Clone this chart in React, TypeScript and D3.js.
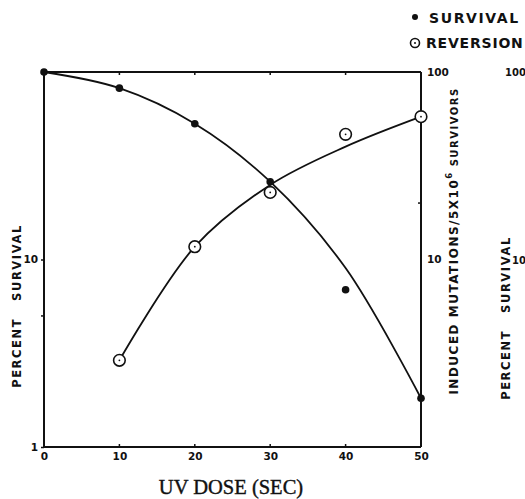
import { useEffect, useRef } from "react"
import * as d3 from "d3"

// dose in seconds
const doses = [0, 10, 20, 30, 40, 50]
const survivalPoints = [100, 82, 53, 26, 6.9, 1.82]
const survivalCurve = [100, 82, 53, 26, 9, 1.82]

const reversionDoses = [10, 20, 30, 40, 50]
const reversionPoints = [2.9, 11.7, 22.8, 46.5, 57.8]
const reversionCurve = [2.9, 11.7, 25, 40, 57.8]

const xTicks = [0, 10, 20, 30, 40, 50]
const leftTicks = [1, 10]
const rightTicks = [10, 100]
const minorLeft = [5]
const minorRight = [20]

export default function App() {
  const svgRef = useRef<SVGSVGElement>(null)

  useEffect(() => {
    if (!svgRef.current) return
    const svg = d3.select(svgRef.current)
    svg.selectAll("*").remove()

    const margin = { top: 72, right: 104, bottom: 52, left: 44 }
    const width = 525
    const height = 499
    const innerW = width - margin.left - margin.right
    const innerH = height - margin.top - margin.bottom

    const x = d3.scaleLinear().domain([0, 50]).range([margin.left, margin.left + innerW])
    const y = d3.scaleLog().domain([1, 100]).range([margin.top + innerH, margin.top])

    const tickFont = "'DejaVu Sans', sans-serif"

    // frame
    const frame = svg.append("g").attr("stroke", "#111").attr("stroke-width", 2).attr("fill", "none")
    frame.append("line").attr("x1", x(0)).attr("x2", x(0)).attr("y1", y(100)).attr("y2", y(1))
    frame.append("line").attr("x1", x(50)).attr("x2", x(50)).attr("y1", y(100)).attr("y2", y(1))
    frame.append("line").attr("x1", x(0)).attr("x2", x(50)).attr("y1", y(100)).attr("y2", y(100))
    frame.append("line").attr("x1", x(0)).attr("x2", x(50)).attr("y1", y(1)).attr("y2", y(1))

    // bottom axis
    const xAxis = d3.axisBottom(x).tickValues(xTicks).tickSize(0).tickPadding(6).tickFormat(d3.format("d"))
    const gx = svg.append("g").attr("transform", `translate(0,${y(1)})`).call(xAxis)
    gx.select(".domain").remove()
    gx.selectAll("text").attr("font-family", tickFont).attr("font-weight", "bold").attr("font-size", 10.5).attr("fill", "#111")

    // small inner ticks top and bottom
    xTicks.slice(1, 5).forEach((t) => {
      svg.append("line").attr("x1", x(t)).attr("x2", x(t)).attr("y1", y(1)).attr("y2", y(1) - 3).attr("stroke", "#111").attr("stroke-width", 1.5)
      svg.append("line").attr("x1", x(t)).attr("x2", x(t)).attr("y1", y(100)).attr("y2", y(100) + 3).attr("stroke", "#111").attr("stroke-width", 1.5)
    })

    // left axis
    const yAxisL = d3.axisLeft(y).tickValues(leftTicks).tickSize(3).tickPadding(3).tickFormat(d3.format("d"))
    const gl = svg.append("g").attr("transform", `translate(${x(0)},0)`).call(yAxisL)
    gl.select(".domain").remove()
    gl.selectAll("line").attr("stroke", "#111").attr("stroke-width", 1.5)
    gl.selectAll("text").attr("font-family", tickFont).attr("font-weight", "bold").attr("font-size", 10.5).attr("fill", "#111")
    minorLeft.forEach((t) => {
      svg.append("line").attr("x1", x(0)).attr("x2", x(0) - 3).attr("y1", y(t)).attr("y2", y(t)).attr("stroke", "#111").attr("stroke-width", 1.5)
    })

    // right axis
    const yAxisR = d3.axisRight(y).tickValues(rightTicks).tickSize(0).tickPadding(6).tickFormat(d3.format("d"))
    const gr = svg.append("g").attr("transform", `translate(${x(50)},0)`).call(yAxisR)
    gr.select(".domain").remove()
    gr.selectAll("text").attr("font-family", tickFont).attr("font-weight", "bold").attr("font-size", 10.5).attr("fill", "#111")
    minorRight.forEach((t) => {
      svg.append("line").attr("x1", x(50)).attr("x2", x(50) - 3).attr("y1", y(t)).attr("y2", y(t)).attr("stroke", "#111").attr("stroke-width", 1.5)
    })

    // curves
    const line = d3
      .line<[number, number]>()
      .x((d) => x(d[0]))
      .y((d) => y(d[1]))
      .curve(d3.curveCatmullRom.alpha(0.5))

    svg
      .append("path")
      .attr("d", line(doses.map((d, i) => [d, survivalCurve[i]] as [number, number])))
      .attr("fill", "none")
      .attr("stroke", "#111")
      .attr("stroke-width", 1.8)

    svg
      .append("path")
      .attr("d", line(reversionDoses.map((d, i) => [d, reversionCurve[i]] as [number, number])))
      .attr("fill", "none")
      .attr("stroke", "#111")
      .attr("stroke-width", 1.8)

    // survival points
    svg
      .selectAll(".surv")
      .data(doses)
      .enter()
      .append("circle")
      .attr("class", "surv")
      .attr("cx", (d) => x(d))
      .attr("cy", (d, i) => y(survivalPoints[i]))
      .attr("r", 3.8)
      .attr("fill", "#111")

    // reversion points
    const rev = svg.selectAll(".rev").data(reversionDoses).enter().append("g").attr("class", "rev")
    rev
      .append("circle")
      .attr("cx", (d) => x(d))
      .attr("cy", (d, i) => y(reversionPoints[i]))
      .attr("r", 5.8)
      .attr("fill", "#fff")
      .attr("stroke", "#111")
      .attr("stroke-width", 1.6)
    rev
      .append("circle")
      .attr("cx", (d) => x(d))
      .attr("cy", (d, i) => y(reversionPoints[i]))
      .attr("r", 0.9)
      .attr("fill", "#111")

    // axis titles
    svg
      .append("text")
      .attr("x", 231)
      .attr("y", 494)
      .attr("text-anchor", "middle")
      .attr("font-family", "'Liberation Serif', serif")
      .attr("font-size", 20.5)
      .attr("fill", "#111")
      .attr("stroke", "#111")
      .attr("stroke-width", 0.4)
      .text("UV DOSE (SEC)")

    svg
      .append("text")
      .attr("transform", "translate(21,306) rotate(-90)")
      .attr("text-anchor", "middle")
      .attr("font-family", tickFont)
      .attr("font-weight", "bold")
      .attr("font-size", 11.5)
      .attr("letter-spacing", 1.6)
      .attr("fill", "#111")
      .attr("xml:space", "preserve")
      .text("PERCENT   SURVIVAL")

    const rt = svg
      .append("text")
      .attr("transform", "translate(458,241) rotate(-90)")
      .attr("text-anchor", "middle")
      .attr("font-family", tickFont)
      .attr("font-weight", "bold")
      .attr("font-size", 12)
      .attr("letter-spacing", 1.5)
      .attr("fill", "#111")
    rt.append("tspan").text("INDUCED  MUTATIONS/5X10")
    rt.append("tspan").attr("dy", -6).attr("font-size", 8.5).text("6")
    rt.append("tspan").attr("dy", 6).attr("font-size", 10).text(" SURVIVORS")

    // partial neighbouring chart on the right
    svg
      .append("text")
      .attr("transform", "translate(510,318) rotate(-90)")
      .attr("text-anchor", "middle")
      .attr("font-family", tickFont)
      .attr("font-weight", "bold")
      .attr("font-size", 11.5)
      .attr("letter-spacing", 1.6)
      .attr("fill", "#111")
      .attr("xml:space", "preserve")
      .text("PERCENT   SURVIVAL")
    ;[
      ["100", y(100), 505],
      ["10", y(10), 512],
    ].forEach(([t, yy, xx]) => {
      svg
        .append("text")
        .attr("x", xx as number)
        .attr("y", (yy as number) + 4)
        .attr("font-family", tickFont)
        .attr("font-weight", "bold")
        .attr("font-size", 10)
        .attr("fill", "#111")
        .text(t as string)
    })

    // legend
    const legend = svg.append("g").attr("font-family", tickFont).attr("font-weight", "bold").attr("font-size", 14).attr("fill", "#111")
    legend.append("circle").attr("cx", 415).attr("cy", 17).attr("r", 3).attr("fill", "#111")
    legend.append("text").attr("x", 429).attr("y", 23).attr("letter-spacing", 1.6).text("SURVIVAL")
    legend.append("circle").attr("cx", 415).attr("cy", 43).attr("r", 4.5).attr("fill", "none").attr("stroke", "#111").attr("stroke-width", 1.6)
    legend.append("circle").attr("cx", 415).attr("cy", 43).attr("r", 1).attr("fill", "#111")
    legend.append("text").attr("x", 426).attr("y", 48).attr("letter-spacing", 0.8).text("REVERSION")
  }, [])

  return (
    <svg
      ref={svgRef}
      width={525}
      height={499}
      style={{ position: "absolute", left: 0, top: 0, background: "#fff" }}
    />
  )
}
